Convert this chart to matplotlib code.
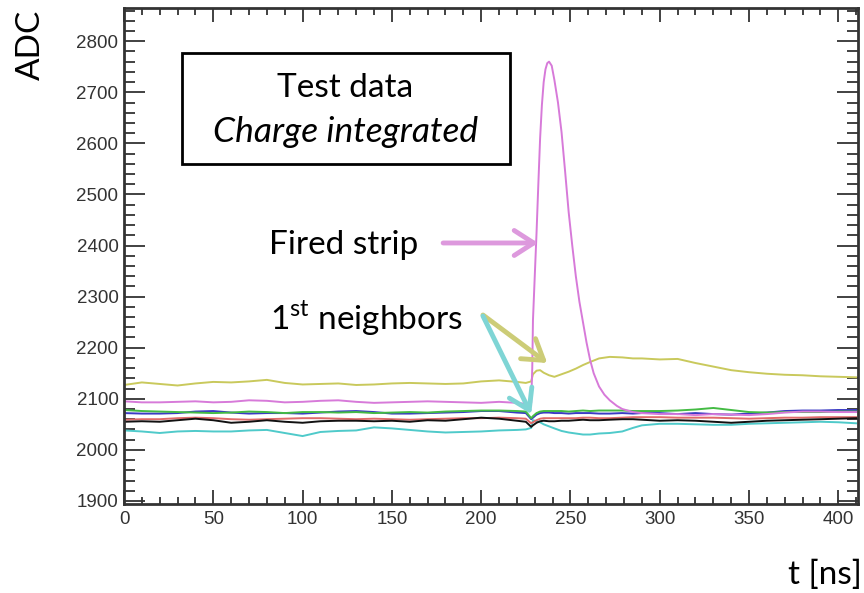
import matplotlib
matplotlib.use("Agg")
import matplotlib.pyplot as plt
from matplotlib.patches import Rectangle, ArrowStyle
from matplotlib.ticker import MultipleLocator

plt.rcParams['mathtext.fontset'] = 'custom'
plt.rcParams['mathtext.rm'] = 'Lato'

# ---- data ----
t_ns = [0, 10, 20, 30, 40, 50, 60, 70, 80, 90, 100, 110, 120, 130, 140, 150, 160, 170, 180, 190, 200, 210, 220,
        225, 228, 229, 231, 233, 235, 238, 241, 245, 249, 253, 257, 261, 266, 272, 279, 285,
        290, 300, 310, 320, 330, 340, 350, 360, 370, 380, 390, 400, 410]

yellow = [2127, 2132, 2129, 2126, 2130, 2133, 2132, 2134, 2137, 2131, 2128, 2129, 2130, 2127, 2128, 2130, 2131, 2130, 2129, 2130, 2134, 2136, 2133,
          2131, 2134, 2148, 2155, 2156, 2151, 2146, 2143, 2148, 2153, 2159, 2166, 2172, 2179, 2182, 2181, 2179,
          2179, 2177, 2178, 2170, 2163, 2156, 2152, 2149, 2147, 2146, 2144, 2143, 2142]

# fired strip has its own, denser time axis around the pulse
t_fired = [0, 10, 20, 30, 40, 50, 60, 70, 80, 90, 100, 110, 120, 130, 140, 150, 160, 170, 180, 190, 200, 210, 220,
           225, 228, 228.6, 229, 230, 231, 232, 233, 234, 235, 236, 237, 238, 239.5, 241, 243, 245, 247, 249,
           251, 253, 255, 257, 259, 261, 263, 266, 269, 272, 276, 279, 285,
           290, 300, 310, 320, 330, 340, 350, 360, 370, 380, 390, 400, 410]
magenta = [2095, 2093, 2093, 2094, 2095, 2093, 2094, 2097, 2096, 2093, 2094, 2096, 2097, 2094, 2092, 2093, 2094, 2095, 2094, 2093, 2092, 2094, 2092,
           2090, 2092, 2160, 2254, 2340, 2425, 2520, 2610, 2675, 2720, 2745, 2757, 2760, 2752, 2724, 2680, 2622, 2545, 2465,
           2400, 2340, 2290, 2250, 2210, 2176, 2150, 2124, 2108, 2097, 2086, 2080, 2074,
           2072, 2070, 2070, 2068, 2070, 2069, 2068, 2070, 2073, 2075, 2075, 2074, 2074]

green = [2078, 2076, 2075, 2074, 2073, 2072, 2073, 2075, 2074, 2072, 2074, 2074, 2073, 2074, 2072, 2073, 2074, 2073, 2075, 2076, 2077, 2077, 2076,
         2075, 2062, 2066, 2072, 2075, 2076, 2076, 2076, 2076, 2075, 2076, 2077, 2076, 2077, 2077, 2077, 2076,
         2076, 2076, 2077, 2079, 2082, 2078, 2074, 2073, 2074, 2074, 2074, 2075, 2075]

blue = [2072, 2071, 2071, 2072, 2075, 2076, 2073, 2071, 2072, 2072, 2071, 2073, 2075, 2076, 2074, 2071, 2071, 2072, 2073, 2074, 2076, 2076, 2073,
        2072, 2060, 2063, 2069, 2072, 2073, 2073, 2072, 2072, 2071, 2072, 2072, 2072, 2071, 2071, 2072, 2071,
        2072, 2072, 2070, 2072, 2070, 2069, 2071, 2073, 2076, 2077, 2077, 2078, 2078]

black = [2055, 2056, 2055, 2058, 2061, 2058, 2053, 2055, 2058, 2055, 2053, 2056, 2057, 2057, 2056, 2057, 2055, 2058, 2057, 2060, 2063, 2061, 2057,
         2055, 2045, 2048, 2053, 2056, 2057, 2056, 2056, 2057, 2057, 2058, 2059, 2058, 2058, 2059, 2060, 2060,
         2059, 2057, 2058, 2057, 2055, 2053, 2055, 2057, 2058, 2059, 2060, 2061, 2062]

red = [2059, 2060, 2060, 2062, 2063, 2062, 2060, 2059, 2060, 2061, 2062, 2062, 2061, 2060, 2061, 2060, 2059, 2060, 2061, 2062, 2062, 2063, 2062,
       2061, 2052, 2054, 2058, 2061, 2062, 2062, 2062, 2062, 2062, 2062, 2063, 2063, 2062, 2062, 2063, 2064,
       2064, 2064, 2063, 2063, 2063, 2062, 2061, 2062, 2063, 2063, 2064, 2064, 2064]

cyan = [2038, 2036, 2033, 2036, 2037, 2036, 2036, 2038, 2039, 2033, 2027, 2035, 2037, 2038, 2044, 2042, 2039, 2036, 2034, 2035, 2036, 2038, 2039,
        2040, 2043, 2058, 2056, 2054, 2050, 2046, 2042, 2037, 2034, 2032, 2030, 2030, 2032, 2033, 2036, 2043,
        2048, 2051, 2051, 2050, 2049, 2049, 2051, 2052, 2053, 2054, 2055, 2054, 2052]

x_ticks = [0, 50, 100, 150, 200, 250, 300, 350, 400]
y_ticks = [1900, 2000, 2100, 2200, 2300, 2400, 2500, 2600, 2700, 2800]

W, H = 864, 593
fig = plt.figure(figsize=(W / 100, H / 100), dpi=100)
ax = fig.add_axes([124 / W, 1 - 504 / H, (858 - 124) / W, (504 - 8) / H])

series = [
    (t_ns, cyan, '#4fcaca'),
    (t_ns, red, '#e06a6a'),
    (t_ns, black, '#111111'),
    (t_ns, blue, '#3a3ac4'),
    (t_ns, green, '#44bb44'),
    (t_ns, yellow, '#c9c95c'),
    (t_fired, magenta, '#d77ad9'),
]
for tt, vals, col in series:
    ax.plot(tt, vals, color=col, lw=1.4)

ax.set_xlim(0, 411)
ax.set_ylim(1894, 2865)
ax.set_xticks(x_ticks)
ax.set_yticks(y_ticks)
ax.xaxis.set_minor_locator(MultipleLocator(10))
ax.yaxis.set_minor_locator(MultipleLocator(20))
tick_col = '#333333'
ax.tick_params(axis='both', which='both', direction='in', top=True, right=True,
               color=tick_col, width=1.3, labelcolor='#333333')
ax.tick_params(axis='x', which='major', length=10, pad=5)
ax.tick_params(axis='x', which='minor', length=5)
ax.tick_params(axis='y', which='major', length=15, pad=4)
ax.tick_params(axis='y', which='minor', length=8)
for lab in ax.get_xticklabels() + ax.get_yticklabels():
    lab.set_fontfamily('Liberation Sans')
    lab.set_fontsize(13.5)
for sp in ax.spines.values():
    sp.set_color('#333333')
    sp.set_linewidth(2)

# ---- annotations ----
txt_font = 'Lato'
def ftext(x, y, s, **kw):
    fig.text(x / W, 1 - y / H, s, ha='center', va='center', family=txt_font, **kw)

ftext(31, 45, 'ADC', fontsize=24, rotation=90)
ftext(825, 575, 't [ns]', fontsize=24)

box = Rectangle((182 / W, 1 - 164 / H), (510 - 182) / W, (164 - 53) / H,
                transform=fig.transFigure, fill=False, edgecolor='black', lw=2)
fig.add_artist(box)
ftext(345, 88, 'Test data', fontsize=24)
ftext(346, 132, 'Charge integrated', fontsize=25.5, style='italic')
ftext(344, 245, 'Fired strip', fontsize=24)
ftext(366, 318, r'1$^{\mathrm{st}}$ neighbors', fontsize=24)

def arrow(x0, y0, x1, y1, col):
    ax.annotate('', xy=(x1, y1), xytext=(x0, y0), xycoords='data', textcoords='data',
                arrowprops=dict(arrowstyle=ArrowStyle('->', head_length=0.7, head_width=0.45),
                                mutation_scale=20, color=col, lw=3.5,
                                shrinkA=0, shrinkB=0))

arrow(178.7, 2405, 231.9, 2405, '#dd99dd')
arrow(201, 2264, 237, 2170, '#cccc77')
arrow(201, 2262, 228, 2070, '#7fd5d5')

fig.savefig('out.png', dpi=100)
